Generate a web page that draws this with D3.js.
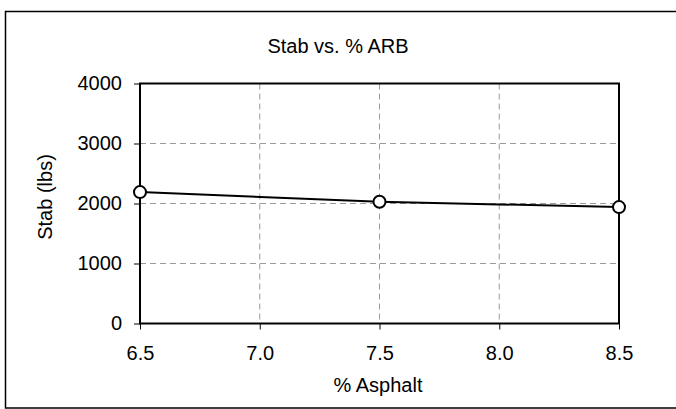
<!DOCTYPE html>
<html><head><meta charset="utf-8">
<script src="https://cdn.jsdelivr.net/npm/d3@7"></script>
<style>body{margin:0;background:#fff}svg{display:block}text{font-family:"Liberation Sans",Arial,sans-serif;fill:#000}</style>
</head><body>
<svg id="c" width="676" height="409"></svg>
<script>
const xValues = [6.5, 7.5, 8.5];
const stabValues = [2190, 2030, 1940];
const xTicks = [6.5, 7.0, 7.5, 8.0, 8.5];
const yTicks = [0, 1000, 2000, 3000, 4000];
const title = "Stab vs. % ARB";
const xTitle = "% Asphalt";
const yTitle = "Stab (lbs)";

const FS = "20px";
const svg = d3.select("#c");
svg.append("rect").attr("x",5.5).attr("y",11.5).attr("width",676).attr("height",396.5)
  .attr("fill","#fff").attr("stroke","#000").attr("stroke-width",1.5);

const L=140, R=619, T=83.5, B=323.5;
const x = d3.scaleLinear().domain([6.5,8.5]).range([L,R]);
const y = d3.scaleLinear().domain([0,4000]).range([B,T]);

const g = svg.append("g");
g.selectAll(".gx").data(xTicks.slice(1,-1)).enter().append("line")
  .attr("x1",d=>x(d)).attr("x2",d=>x(d)).attr("y1",T).attr("y2",B)
  .attr("stroke","#9a9a9a").attr("stroke-dasharray","6,4").attr("stroke-width",1);
g.selectAll(".gy").data(yTicks.slice(1,-1)).enter().append("line")
  .attr("x1",L).attr("x2",R).attr("y1",d=>y(d)).attr("y2",d=>y(d))
  .attr("stroke","#9a9a9a").attr("stroke-dasharray","6,4").attr("stroke-width",1);

const xa = g.append("g").attr("transform",`translate(0,${B})`)
  .call(d3.axisBottom(x).tickValues(xTicks).tickFormat(d3.format(".1f")).tickSizeInner(6).tickSizeOuter(0).tickPadding(16));
const ya = g.append("g").attr("transform",`translate(${L},0)`)
  .call(d3.axisLeft(y).tickValues(yTicks).tickFormat(d3.format("d")).tickSizeInner(6).tickSizeOuter(0).tickPadding(12));
[xa,ya].forEach(a=>{a.select(".domain").remove();a.selectAll(".tick line").attr("stroke","#000");
  a.selectAll("text").style("font-size",FS).style("font-family","Liberation Sans, Arial, sans-serif");});

g.append("rect").attr("x",L).attr("y",T).attr("width",R-L).attr("height",B-T)
  .attr("fill","none").attr("stroke","#000").attr("stroke-width",2);

const data = xValues.map((v,i)=>({x:v,y:stabValues[i]}));
g.append("path").datum(data).attr("fill","none").attr("stroke","#000").attr("stroke-width",2)
  .attr("d",d3.line().x(d=>x(d.x)).y(d=>y(d.y)));
g.selectAll(".pt").data(data).enter().append("circle")
  .attr("cx",d=>x(d.x)).attr("cy",d=>y(d.y)).attr("r",6)
  .attr("fill","#fff").attr("stroke","#000").attr("stroke-width",2);

svg.append("text").attr("x",338).attr("y",53).attr("text-anchor","middle").style("font-size",FS).text(title);
svg.append("text").attr("x",378).attr("y",392).attr("text-anchor","middle").style("font-size",FS).text(xTitle);
svg.append("text").attr("transform","translate(52,197) rotate(-90)").attr("text-anchor","middle").style("font-size",FS).text(yTitle);
</script>
</body></html>
